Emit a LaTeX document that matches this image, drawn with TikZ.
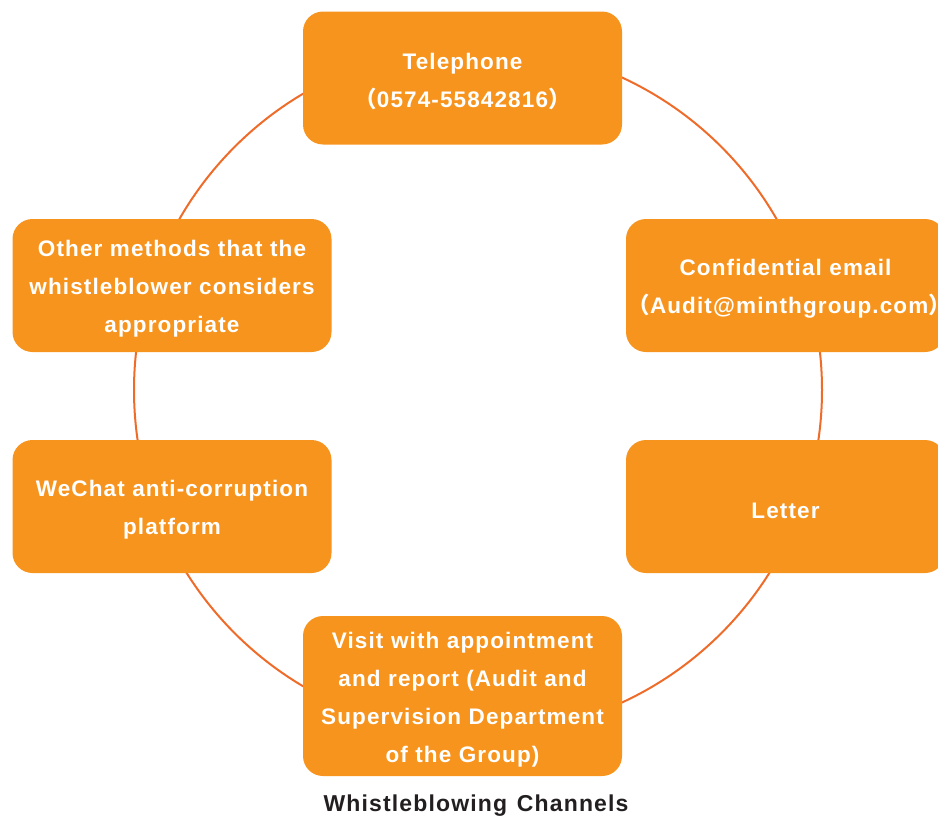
\documentclass[tikz,border=0pt]{standalone}
\usepackage{fontspec}
\setmainfont{Liberation Sans}[LetterSpace=5,WordSpace=1.3]
\newfontfamily\cjk{Noto Sans CJK SC}
\usetikzlibrary{positioning}
\definecolor{boxorange}{HTML}{F7941D}
\definecolor{ringorange}{HTML}{EF6B2A}
\definecolor{titlegray}{HTML}{231F20}
\newcommand{\firstline}{\rule{0pt}{23.5pt}}
\begin{document}
\begin{tikzpicture}[x=1pt, y=-1pt,
  channel/.style={fill=boxorange, rectangle, rounded corners=20pt, minimum width=319pt,
    minimum height=133pt, text width=316pt, align=center, text=white,
    font=\bfseries\fontsize{22.5}{38}\selectfont, inner sep=0pt}]
\useasboundingbox (0,0) rectangle (938,819);
\coordinate (C) at (478,390);
\draw[ringorange, line width=2pt] (C) circle[radius=344];
\node (T) [channel] at (462.5,78) {\firstline Telephone\\{\cjk（}0574-55842816{\cjk）}};
\node (E) [channel] at (785.5,285.5) {\firstline Confidential email\\{\cjk（}Audit@minthgroup.com{\cjk）}};
\node (L) [channel] at (785.5,506.5) {\firstline Letter};
\node (V) [channel, minimum height=160pt] at (462.5,696) {\firstline Visit with appointment\\and report (Audit and\\Supervision Department\\of the Group)};
\node (W) [channel] at (172,506.5) {\firstline WeChat anti-corruption\\platform};
\node (O) [channel] at (172,285.5) {\firstline Other methods that the\\whistleblower considers\\appropriate};
\node (title) [below=15pt of V, xshift=13.5pt, text=titlegray, font=\bfseries\fontsize{23}{26}\selectfont] {Whistleblowing Channels};
\end{tikzpicture}
\end{document}
